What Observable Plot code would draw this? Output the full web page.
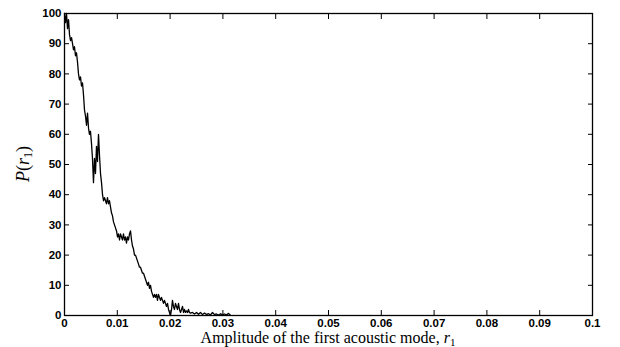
<!DOCTYPE html>
<html><head><meta charset="utf-8">
<script src="https://cdn.jsdelivr.net/npm/d3@7"></script>
<script src="https://cdn.jsdelivr.net/npm/@observablehq/plot@0.6"></script>
<style>body{margin:0;background:#fff} svg{display:block}</style>
</head><body><div id="chart"></div>
<script>
const amplitude = [
0,.00019,.00038,.00057,.00076,.00095,.00114,.00133,.00152,.00170,
.00189,.00208,.00227,.00246,.00265,.00284,.00303,.00322,.00341,.00360,
.00379,.00398,.00417,.00436,.00455,.00473,.00492,.00511,.00530,.00549,
.00568,.00587,.00606,.00625,.00644,.00663,.00682,.00701,.00720,.00739,
.00758,.00777,.00795,.00814,.00833,.00852,.00871,.00890,.00909,.00928,
.00947,.00966,.00985,.01004,.01023,.01042,.01061,.01080,.01098,.01117,
.01136,.01155,.01174,.01193,.01212,.01231,.01250,.01269,.01288,.01307,
.01326,.01345,.01364,.01383,.01402,.01420,.01439,.01458,.01477,.01496,
.01515,.01534,.01553,.01572,.01591,.01610,.01629,.01648,.01667,.01686,
.01705,.01723,.01742,.01761,.01780,.01799,.01818,.01837,.01856,.01875,
.01894,.01913,.01932,.01951,.01970,.01989,.02008,.02027,.02045,.02064,
.02083,.02102,.02121,.02140,.02159,.02178,.02197,.02216,.02235,.02254,
.02273,.02292,.02311,.02330,.02348,.02367,.02386,
.02424,.02462,.02500,.02538,.02576,.02614,.02652,.02689,.02727,.02765,
.02803,.02841,.02879,.02917,.02955,.02992,.03030,.03068,.03106,.03144
];
const probability = [
100,97,100,95,98,93,91,92,90,88,
89,86,87,84,80,78,79,76,77,73,
68,66,63,67,62,60,61,57,52,44,
52,47,56,51,60,53,47,44,40,38,
39,
38,37,39,37,38,36,34,33,31,30,
29,28,26,27,25,27,26,25,27,25,
26,24,26,25,27,28,25,23,22,20,
20,19,18,17,16,16,15,14,14,13,
12,11,10,11,9,10,8,7,6,7,
6,7,5,7,6,5,6,5,4,5,
4,3,4,2,1,0,2,5,3,2,
4,3,2,4,2,1,2,3,1,2,
1,1.5,1,2,1,0.8,
1,0.5,1,0.4,1,0.3,0.8,0.3,0.6,0.2,
1,0.3,0.5,0.1,0.6,0.2,0.5,0.2,0.7,0.1
];
const xTicks = [0,0.01,0.02,0.03,0.04,0.05,0.06,0.07,0.08,0.09,0.1];
const xTickLabels = ["0","0.01","0.02","0.03","0.04","0.05","0.06","0.07","0.08","0.09","0.1"];
const yTicks = [0,10,20,30,40,50,60,70,80,90,100];
const yTickLabels = ["0","10","20","30","40","50","60","70","80","90","100"];
const xLabelText = "Amplitude of the first acoustic mode, ";

const data = amplitude.map((a, i) => ({a, p: probability[i]}));
const xFmt = new Map(xTicks.map((t, i) => [t, xTickLabels[i]]));
const yFmt = new Map(yTicks.map((t, i) => [t, yTickLabels[i]]));

const chart = Plot.plot({
  width: 620, height: 347,
  marginLeft: 64, marginRight: 28, marginTop: 13, marginBottom: 32,
  x: {domain: [0, 0.1]},
  y: {domain: [0, 100]},
  style: {fontFamily: "Liberation Sans, Arial, sans-serif", fontSize: "11.5px", color: "#000", background: "#fff"},
  marks: [
    Plot.axisX(xTicks, {anchor: "bottom", tickSize: -5, tickPadding: 8, tickFormat: d => xFmt.get(d), label: null, fontWeight: "bold"}),
    Plot.axisX(xTicks, {anchor: "top", tickSize: -5, tickFormat: () => "", label: null}),
    Plot.axisY(yTicks, {anchor: "left", tickSize: -5, tickPadding: 8, tickFormat: d => yFmt.get(d), label: null, fontWeight: "bold"}),
    Plot.axisY(yTicks, {anchor: "right", tickSize: -5, tickFormat: () => "", label: null}),
    Plot.frame({stroke: "#000", strokeWidth: 1.3}),
    Plot.line(data, {x: "a", y: "p", stroke: "#000", strokeWidth: 1.3})
  ]
});
document.getElementById("chart").append(chart);

const svg = d3.select(chart);
const xl = svg.append("text")
  .attr("x", 328).attr("y", 343)
  .attr("text-anchor", "middle")
  .attr("font-family", "Liberation Serif, Times New Roman, serif")
  .attr("font-size", 16).attr("fill", "#000");
xl.append("tspan").text(xLabelText);
xl.append("tspan").attr("font-style", "italic").text("r");
xl.append("tspan").attr("font-size", 11).attr("dy", 3).text("1");

const yl = svg.append("text")
  .attr("transform", "translate(29,164) rotate(-90)")
  .attr("text-anchor", "middle")
  .attr("font-family", "Liberation Serif, Times New Roman, serif")
  .attr("font-size", 18).attr("fill", "#000");
yl.append("tspan").attr("font-style", "italic").text("P");
yl.append("tspan").text("(");
yl.append("tspan").attr("font-style", "italic").text("r");
yl.append("tspan").attr("font-size", 12).attr("dy", 3).text("1");
yl.append("tspan").attr("dy", -3).text(")");
</script>
</body></html>
